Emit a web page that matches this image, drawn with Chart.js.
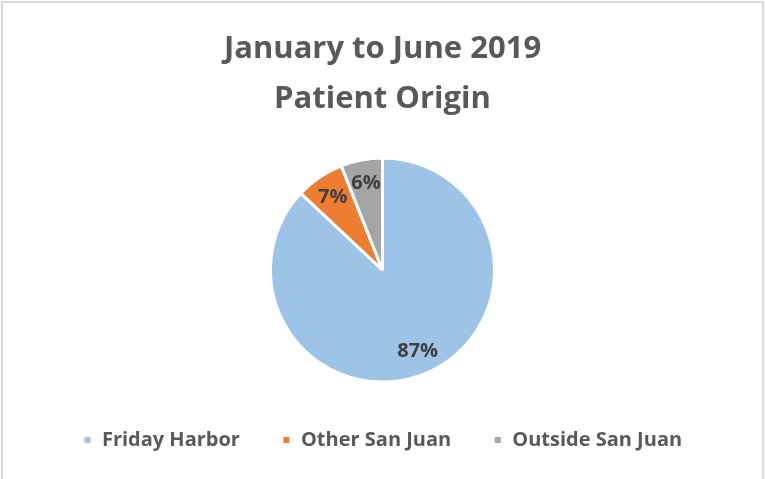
<!DOCTYPE html>
<html>
<head>
<meta charset="utf-8">
<script src="https://cdn.jsdelivr.net/npm/chart.js@4"></script>
<style>
  html, body { margin: 0; padding: 0; background: #fff; }
  #wrap { width: 765px; height: 479px; }
</style>
</head>
<body>
<div id="wrap"><canvas id="originChart" width="765" height="479"></canvas></div>
<script>
// chart data
const titleLines = ['January to June 2019', 'Patient Origin'];
const origins = ['Friday Harbor', 'Other San Juan', 'Outside San Juan'];
const percents = [87, 7, 6];
const sliceColors = ['#9DC3E6', '#ED7D31', '#A5A5A5'];

// draws the percentage inside each slice, like Excel's data labels
const sliceLabels = {
  id: 'sliceLabels',
  afterDatasetsDraw(chart) {
    const ctx = chart.ctx;
    const meta = chart.getDatasetMeta(0);
    ctx.save();
    ctx.font = 'bold 20px "Open Sans"';
    ctx.fillStyle = '#404040';
    ctx.textAlign = 'center';
    ctx.textBaseline = 'middle';
    meta.data.forEach((arc, i) => {
      const mid = (arc.startAngle + arc.endAngle) / 2;
      const r = arc.outerRadius * 0.79;
      ctx.fillText(percents[i] + '%', arc.x + Math.cos(mid) * r, arc.y + Math.sin(mid) * r);
    });
    ctx.restore();
  }
};

// thin grey frame round the chart
const chartFrame = {
  id: 'chartFrame',
  beforeDraw(chart) {
    const ctx = chart.ctx;
    ctx.save();
    ctx.strokeStyle = '#D9D9D9';
    ctx.lineWidth = 2;
    ctx.strokeRect(2, 2, chart.width - 4, chart.height + 10);
    ctx.restore();
  }
};

new Chart(document.getElementById('originChart'), {
  type: 'pie',
  data: {
    labels: origins,
    datasets: [{
      data: percents,
      backgroundColor: sliceColors,
      borderColor: '#ffffff',
      borderWidth: 3,
      radius: 112
    }]
  },
  options: {
    responsive: false,
    animation: false,
    layout: { padding: { top: 0, bottom: 19, left: 0, right: 0 } },
    plugins: {
      title: {
        display: true,
        text: titleLines,
        color: '#595959',
        font: { family: 'Open Sans', size: 31, weight: 'bold', lineHeight: 1.613 },
        padding: { top: 24, bottom: 28 }
      },
      legend: {
        position: 'bottom',
        labels: {
          color: '#595959',
          font: { family: 'Open Sans', size: 20, weight: 'bold' },
          usePointStyle: true,
          pointStyle: 'rect',
          boxWidth: 9,
          boxHeight: 9,
          padding: 42
        }
      },
      tooltip: { enabled: false }
    }
  },
  plugins: [sliceLabels, chartFrame]
});
</script>
</body>
</html>
